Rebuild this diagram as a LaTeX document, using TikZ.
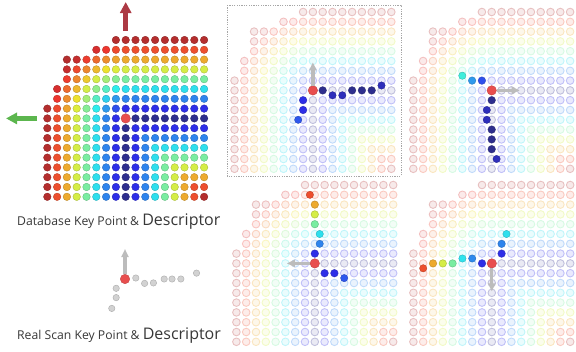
\documentclass[tikz,border=0pt]{standalone}
\usepackage{fontspec}
\setmainfont{Open Sans}
\usetikzlibrary{arrows.meta,positioning}

\definecolor{keyred}{RGB}{232,78,78}
\definecolor{uparrow}{RGB}{172,58,68}
\definecolor{leftarrow}{RGB}{92,182,78}
\definecolor{ghostgray}{RGB}{188,188,188}
\definecolor{lbltext}{RGB}{55,55,55}

\def\gap{9.8}

% descriptor value at offset (dx,dy) from the key point -> jet colour "dotc"
\newcommand{\descval}[2]{%
  \pgfmathsetmacro\dv{((#1)<=0 && (#2)<=0) ? veclen((#1),(#2)) : (((#1)>=0 && (#2)<=0) ? -(#2) : (((#1)<=0 && (#2)>=0) ? -(#1) : min((#1),(#2))))}%
  \pgfmathsetmacro\jt{0.95*min(1,max(0,\dv/8))}%
  \pgfmathsetmacro\jr{0.18+0.75*min(1,max(0,1.5-abs(4*\jt-3)))}%
  \pgfmathsetmacro\jg{0.18+0.75*min(1,max(0,1.5-abs(4*\jt-2)))}%
  \pgfmathsetmacro\jb{0.18+0.75*min(1,max(0,1.5-abs(4*\jt-1)))}%
  \definecolor{dotc}{rgb}{\jr,\jg,\jb}}

% staircase grid of points, first column/row at (#1,#2), dot style #3
\newcommand{\descgrid}[3]{%
  \foreach \st [count=\rw from 0] in {7,5,2,2,2,1,1,0,0,0,0,0,0,0,0,0,0}
    \foreach \cl in {\st,...,16} {%
      \descval{\cl-8}{\rw-8}%
      \path[#3] (#1+\cl*\gap, #2+\rw*\gap) circle[radius=3.8];
    }}

% matching panel: faint grid at (#1,#2), scan turned by #3, key named #4
\newcommand{\matchpanel}[4]{%
  \descgrid{#1}{#2}{ghostdot}
  \foreach \px/\py in {1/0,2/0.5,3/0.5,4/0,5/0,6/0,7/-0.5,-1/1,-1/2,-1.5/3} {%
    \pgfmathsetmacro\qx{\px*cos(#3)-\py*sin(#3)}%
    \pgfmathsetmacro\qy{\px*sin(#3)+\py*cos(#3)}%
    \descval{\qx}{\qy}%
    \path[hitdot] (#1+8*\gap+\qx*\gap, #2+8*\gap+\qy*\gap) circle[radius=3.7];
  }
  \node[keydot] (#4) at (#1+8*\gap, #2+8*\gap) {};
  \coordinate (#4tip) at ({#1+8*\gap+28*sin(#3)}, {#2+8*\gap-28*cos(#3)});
  \draw[scanarrow] (#4) -- (#4tip);}

\begin{document}
\begin{tikzpicture}[x=1pt, y=-1pt,
  dbdot/.style={fill=dotc, draw=dotc!75!black, line width=0.3pt},
  ghostdot/.style={fill=dotc!10!white, draw=dotc!30!white, line width=0.9pt},
  hitdot/.style={fill=dotc, draw=dotc!75!black, line width=0.3pt},
  scandot/.style={fill=gray!35, draw=gray!60, line width=0.5pt},
  keydot/.style={circle, minimum size=9.5pt, inner sep=0pt, fill=keyred, draw=keyred!80!black, line width=0.3pt},
  bigarrow/.style={-{Triangle[length=11pt,width=11pt]}, line width=5.5pt},
  scanarrow/.style={-{Triangle[length=8pt,width=7pt]}, line width=3.2pt, draw=ghostgray},
  lbl/.style={anchor=base west, inner sep=0pt, text=lbltext}
]
  \useasboundingbox (0,0) rectangle (576,351);

  % --- database descriptor ---
  \descgrid{47.3}{40}{dbdot}
  \node[keydot] (dbkey) at (125.7,118.4) {};
  \coordinate (dbnorth0) at (125.7,31);
  \coordinate (dbnorth) at (125.7,2);
  \coordinate (dbwest0) at (37,118.4);
  \coordinate (dbwest) at (6,118.4);
  \draw[bigarrow, draw=uparrow] (dbnorth0) -- (dbnorth);
  \draw[bigarrow, draw=leftarrow] (dbwest0) -- (dbwest);
  \node[lbl] (dblabel) at (17,225) {\fontsize{12.2}{14}\selectfont Database Key Point \& {\fontsize{16}{18}\selectfont Descriptor}};

  % --- real scan key point ---
  \foreach \px/\py in {1.1/-0.1,2/0.45,2.9/0.4,4/0,4.8/0,5.7/0,7.3/-0.6,-0.9/0.95,-0.9/1.9,-1.35/3}
    \path[scandot] (125+\px*\gap, 279+\py*\gap) circle[radius=3.2];
  \node[keydot] (scankey) at (125,279) {};
  \coordinate (scantip) at (125,249);
  \draw[scanarrow] (scankey) -- (scantip);
  \node[lbl] (scanlabel) at (17,339) {\fontsize{12.2}{14}\selectfont Real Scan Key Point \& {\fontsize{16}{18}\selectfont Descriptor}};

  % --- four matching rotations ---
  \matchpanel{234.5}{12}{0}{keyA}
  \matchpanel{413.3}{12}{90}{keyB}
  \matchpanel{236.4}{185}{-90}{keyC}
  \matchpanel{413.4}{185}{180}{keyD}

  % best match frame
  \draw[gray!70, line width=0.6pt, dash pattern=on 1.2pt off 1.2pt] (227,5) rectangle (401,176);
\end{tikzpicture}
\end{document}
